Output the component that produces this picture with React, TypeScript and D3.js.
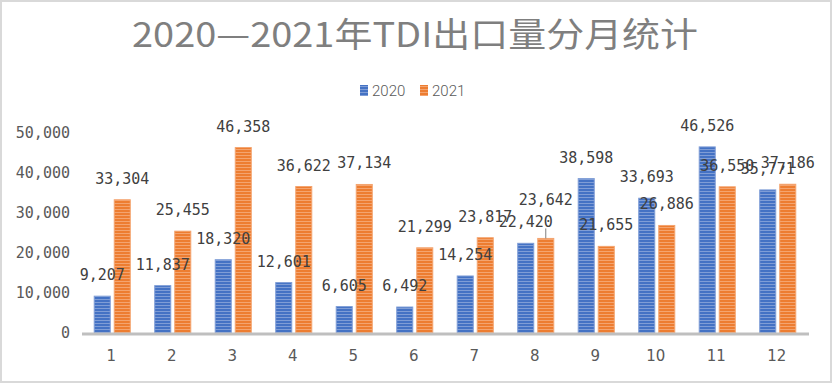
import { useEffect, useRef } from 'react';
import * as d3 from 'd3';

const months = ['1', '2', '3', '4', '5', '6', '7', '8', '9', '10', '11', '12'];
const series = ['2020', '2021'];
const values2020 = [9207, 11837, 18320, 12601, 6605, 6492, 14254, 22420, 38598, 33693, 46526, 35771];
const values2021 = [33304, 25455, 46358, 36622, 37134, 21299, 23817, 23642, 21655, 26886, 36550, 37186];
const yTicks = [0, 10000, 20000, 30000, 40000, 50000];
const title = '2020—2021年TDI出口量分月统计';

const colors = ['#4472C4', '#ED7D31'];
const stripes = ['#7F9DD6', '#F4A46F'];

export default function App() {
  const ref = useRef<SVGSVGElement>(null);
  const width = 834;
  const height = 384;

  useEffect(() => {
    document.body.style.margin = '0';
    const svg = d3.select(ref.current);
    svg.selectAll('*').remove();

    const margin = { top: 133, right: 26, bottom: 51, left: 82 };

    // frame
    svg.append('rect')
      .attr('x', 1).attr('y', 1)
      .attr('width', 830).attr('height', 381)
      .attr('fill', '#fff')
      .attr('stroke', '#d9d9d9')
      .attr('stroke-width', 2);

    const defs = svg.append('defs');
    colors.forEach((c, i) => {
      const p = defs.append('pattern')
        .attr('id', `stripe${i}`)
        .attr('patternUnits', 'userSpaceOnUse')
        .attr('width', 4).attr('height', 3);
      p.append('rect').attr('width', 4).attr('height', 3).attr('fill', c);
      p.append('rect').attr('y', 2).attr('width', 4).attr('height', 1).attr('fill', stripes[i]);
    });

    const x = d3.scaleBand<string>()
      .domain(months)
      .range([margin.left, width - margin.right]);

    const x1 = d3.scaleBand<string>()
      .domain(series)
      .range([0, x.bandwidth()])
      .paddingInner(0.2)
      .paddingOuter(0.61);

    const y = d3.scaleLinear()
      .domain([0, 50000])
      .range([height - margin.bottom, margin.top]);

    const fmt = d3.format(',');

    // title
    svg.append('text')
      .attr('x', 132).attr('y', 47)
      .attr('textLength', 566)
      .attr('lengthAdjust', 'spacingAndGlyphs')
      .style('font-family', '"Noto Sans CJK SC", sans-serif')
      .style('font-size', '34px')
      .attr('fill', '#7f7f7f')
      .text(title);

    // legend
    const legend = svg.append('g').attr('transform', 'translate(360,0)');
    series.forEach((s, i) => {
      const g = legend.append('g').attr('transform', `translate(${i * 60},0)`);
      g.append('rect')
        .attr('x', 0).attr('y', 85)
        .attr('width', 8).attr('height', 11)
        .attr('fill', `url(#stripe${i})`);
      g.append('text')
        .attr('x', 12).attr('y', 96)
        .style('font-family', 'Roboto, sans-serif')
        .style('font-size', '15px')
        .style('font-weight', 300)
        .attr('fill', '#595959')
        .text(s);
    });

    // y axis labels
    svg.append('g')
      .selectAll('text')
      .data(yTicks)
      .join('text')
      .attr('x', 70)
      .attr('y', d => y(d) + 5)
      .attr('text-anchor', 'end')
      .style('font-family', '"DejaVu Sans Mono", monospace')
      .style('font-size', '15px')
      .attr('fill', '#595959')
      .text(d => fmt(d));

    // bars
    const data = months.map((m, i) => ({ m, vals: [values2020[i], values2021[i]] }));
    const groups = svg.append('g')
      .selectAll('g')
      .data(data)
      .join('g')
      .attr('transform', d => `translate(${x(d.m)},0)`);

    groups.selectAll('rect')
      .data(d => d.vals.map((v, i) => ({ v, s: series[i], i })))
      .join('rect')
      .attr('x', d => x1(d.s)!)
      .attr('y', d => y(d.v))
      .attr('width', x1.bandwidth())
      .attr('height', d => y(0) - y(d.v))
      .attr('fill', d => `url(#stripe${d.i})`)
      .attr('stroke', d => stripes[d.i])
      .attr('stroke-width', 1);

    // x axis line
    svg.append('line')
      .attr('x1', margin.left).attr('x2', width - margin.right + 1)
      .attr('y1', y(0) + 1).attr('y2', y(0) + 1)
      .attr('stroke', '#bfbfbf')
      .attr('stroke-width', 3);

    // x labels
    svg.append('g')
      .selectAll('text')
      .data(months)
      .join('text')
      .attr('x', d => x(d)! + x.bandwidth() / 2 - 1)
      .attr('y', 361)
      .attr('text-anchor', 'middle')
      .style('font-family', '"DejaVu Sans", sans-serif')
      .style('font-size', '15px')
      .attr('fill', '#595959')
      .text(d => d);

    // data labels; the 2021 label for month 8 was pulled up with a leader line
    const lifted = (d: { m: string; i: number }) => d.m === '8' && d.i === 1;
    groups.selectAll('text')
      .data(d => d.vals.map((v, i) => ({ v, s: series[i], i, m: d.m })))
      .join('text')
      .attr('x', d => x1(d.s)! + x1.bandwidth() / 2)
      .attr('y', d => y(d.v) - (lifted(d) ? 33 : 16))
      .attr('text-anchor', 'middle')
      .style('font-family', '"DejaVu Sans Mono", monospace')
      .style('font-size', '15px')
      .attr('fill', '#404040')
      .text(d => fmt(d.v));

    groups.filter(d => d.m === '8')
      .append('line')
      .attr('x1', x1('2021')! + x1.bandwidth() / 2)
      .attr('x2', x1('2021')! + x1.bandwidth() / 2)
      .attr('y1', d => y(d.vals[1]) - 10)
      .attr('y2', d => y(d.vals[1]))
      .attr('stroke', '#7f7f7f')
      .attr('stroke-width', 1);
  }, []);

  return <svg ref={ref} width={width} height={height} style={{ display: 'block' }}></svg>;
}
